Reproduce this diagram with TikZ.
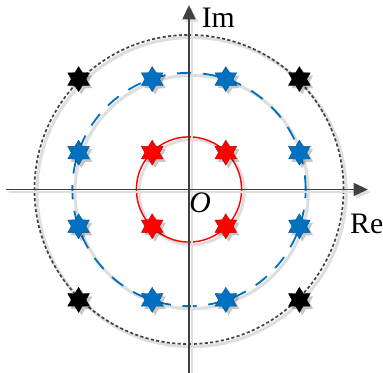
\documentclass[tikz,border=0pt]{standalone}
\usepackage{fontspec}
\setmainfont{Liberation Serif}
\usetikzlibrary{shapes.geometric, arrows.meta, shadows}
\definecolor{QRed}{RGB}{255,0,0}
\definecolor{QBlue}{RGB}{0,112,192}
\definecolor{QAxis}{RGB}{64,64,64}
\definecolor{QShade}{RGB}{222,222,222}

\begin{document}
\begin{tikzpicture}[
      sym/.style={star, star points=6, star point ratio=1.7, minimum size=0.68cm,
                  inner sep=0pt, fill=#1, draw=#1!75!black, line width=0.3pt,
                  drop shadow={shadow xshift=2.2pt, shadow yshift=-2.2pt,
                               fill=black, opacity=0.22}},
      lshade/.style={draw=QShade, line width=2.4pt},
      axis/.style={draw=QAxis, line width=1.5pt, -{Triangle[length=11pt, width=10pt]}},
      lbl/.style={font=\fontsize{23pt}{26pt}\selectfont, inner sep=0pt}
    ]
    \useasboundingbox (-5.136,-4.986) rectangle (5.272,5.149);

    % shadows of the circles
    \draw[lshade, xshift=2pt, yshift=-2pt] (0,0) circle (1.43);
    \draw[lshade, xshift=2pt, yshift=-2pt] (0,0) circle (3.17);
    \draw[lshade, xshift=2pt, yshift=-2pt] (0,0) circle (4.2);

    \draw[QRed, line width=1.1pt] (0,0) circle (1.43);
    \draw[QBlue, line width=1.4pt, dash pattern=on 11pt off 9pt] (0,0) circle (3.17);
    \draw[black!75, line width=1.3pt, dash pattern=on 2.4pt off 1.8pt] (0,0) circle (4.2);

    % axes
    \coordinate (xl) at (-4.97,0);
    \coordinate (xr) at (4.86,0);
    \coordinate (yb) at (0,-5.0);
    \coordinate (yt) at (0,5.01);

    \draw[axis, draw=QShade, fill=QShade] ([shift={(2pt,-2pt)}]xl) -- ([shift={(2pt,-2pt)}]xr);
    \draw[axis, draw=QShade, fill=QShade] ([shift={(2pt,-2pt)}]yb) -- ([shift={(2pt,-2pt)}]yt);
    \draw[axis] (xl) -- (xr);
    \draw[axis] (yb) -- (yt);

    % constellation points
    \foreach \x/\y [count=\i] in {-1/1, 1/1, -1/-1, 1/-1}{
      \node[sym=QRed] (r\i) at (\x,\y) {};
    }
    \foreach \x/\y [count=\i] in {-1/3, 1/3, -3/1, 3/1, -3/-1, 3/-1, -1/-3, 1/-3}{
      \node[sym=QBlue] (b\i) at (\x,\y) {};
    }
    \foreach \x/\y [count=\i] in {-3/3, 3/3, -3/-3, 3/-3}{
      \node[sym=black] (k\i) at (\x,\y) {};
    }

    \node[lbl, anchor=west] (im) at (0.34,4.66) {Im};
    \node[lbl] (re) at (4.83,-0.94) {Re};
    \node[lbl] (o)  at (0.30,-0.36) {\textit{O}};
  \end{tikzpicture}
\end{document}
